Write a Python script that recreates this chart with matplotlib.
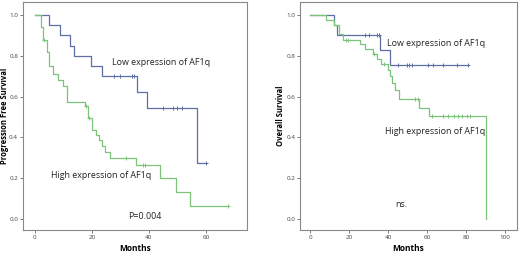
import matplotlib
matplotlib.use('Agg')
import matplotlib.pyplot as plt

plt.rcParams['font.family'] = ['Open Sans', 'DejaVu Sans']

# Progression free survival (left)
pfs_low_t = [0, 5.0, 8.8, 12.3, 13.7, 19.6, 23.7, 35.7, 39.5, 56.7, 59.9]
pfs_low_s = [1.0, 0.95, 0.90, 0.85, 0.80, 0.75, 0.70, 0.625, 0.545, 0.273, 0.273]
pfs_low_cens_t = [27.8, 29.8, 33.9, 34.7, 44.8, 48.5, 49.7, 51.7, 59.9]
pfs_low_cens_s = [0.70, 0.70, 0.70, 0.70, 0.545, 0.545, 0.545, 0.545, 0.273]

pfs_high_t = [0, 2.0, 2.7, 4.1, 5.0, 6.4, 8.2, 9.9, 11.1, 17.5, 18.7, 19.9, 21.6,
              22.6, 23.4, 24.6, 26.3, 35.4, 43.9, 49.5, 54.4, 67.8]
pfs_high_s = [1.0, 0.94, 0.88, 0.82, 0.75, 0.71, 0.68, 0.65, 0.575, 0.555, 0.495,
              0.435, 0.41, 0.385, 0.36, 0.33, 0.30, 0.265, 0.20, 0.13, 0.065, 0.065]
pfs_high_cens_t = [3.3, 18.1, 19.1, 31.9, 37.8, 38.7, 67.8]
pfs_high_cens_s = [0.88, 0.555, 0.495, 0.30, 0.265, 0.265, 0.065]

# Overall survival (right)
os_low_t = [0, 12.2, 13.9, 36.1, 41.2, 81.0]
os_low_s = [1.0, 0.95, 0.90, 0.83, 0.755, 0.755]
os_low_cens_t = [28.0, 30.3, 34.4, 35.4, 45.1, 49.6, 50.9, 52.1, 60.7, 63.2, 68.4, 75.2, 81.0]
os_low_cens_s = [0.90, 0.90, 0.90, 0.90, 0.755, 0.755, 0.755, 0.755, 0.755, 0.755,
                 0.755, 0.755, 0.755]

os_high_t = [0, 8.0, 12.2, 14.8, 17.0, 25.5, 28.0, 32.3, 34.5, 36.5, 40.0, 41.2,
             42.2, 43.5, 45.6, 56.1, 61.2, 90.1]
os_high_s = [1.0, 0.976, 0.952, 0.905, 0.88, 0.857, 0.833, 0.81, 0.786, 0.762, 0.73,
             0.70, 0.665, 0.63, 0.59, 0.545, 0.505, 0.0]
os_high_cens_t = [18.4, 19.6, 33.0, 38.0, 53.6, 55.3, 62.4, 68.0, 70.9, 73.8, 76.0,
                  77.8, 80.3, 82.0]
os_high_cens_s = [0.88, 0.88, 0.81, 0.762, 0.59, 0.59, 0.505, 0.505, 0.505, 0.505,
                  0.505, 0.505, 0.505, 0.505]

blue = '#5f6fa6'
green = '#7cc47a'

fig = plt.figure(figsize=(5.2, 2.56), dpi=100)
ax1 = fig.add_axes([0.044, 0.102, 0.431, 0.89])
ax2 = fig.add_axes([0.577, 0.102, 0.417, 0.89])

def km(ax, t, s, ct, cs, col):
    ax.step(t, s, where='post', color=col, lw=0.9)
    ax.plot(ct, cs, '+', color=col, ms=3, mew=0.7)

km(ax1, pfs_low_t, pfs_low_s, pfs_low_cens_t, pfs_low_cens_s, blue)
km(ax1, pfs_high_t, pfs_high_s, pfs_high_cens_t, pfs_high_cens_s, green)
km(ax2, os_low_t, os_low_s, os_low_cens_t, os_low_cens_s, blue)
km(ax2, os_high_t, os_high_s, os_high_cens_t, os_high_cens_s, green)

ax1.set_xlim(-4.2, 74.4)
ax1.set_xticks([0, 20, 40, 60])
ax2.set_xlim(-5.1, 106)
ax2.set_xticks([0, 20, 40, 60, 80, 100])

for ax in (ax1, ax2):
    ax.set_ylim(-0.054, 1.064)
    ax.set_yticks([0.0, 0.2, 0.4, 0.6, 0.8, 1.0])
    ax.set_yticklabels(['0.0', '0.2', '0.4', '0.6', '0.8', '1.0'])
    ax.tick_params(labelsize=4.5, length=2, width=0.5, colors='#444444', pad=1.5)
    for sp in ax.spines.values():
        sp.set_color('#888888')
        sp.set_linewidth(0.8)
    ax.set_xlabel('Months', fontsize=6, fontweight='bold', labelpad=3)

ax1.text(-0.082, 0.5, 'Progression Free Survival', transform=ax1.transAxes,
         rotation=90, ha='center', va='center', fontsize=5.5, fontweight='bold')
ax2.text(-0.092, 0.5, 'Overall Survival', transform=ax2.transAxes,
         rotation=90, ha='center', va='center', fontsize=5.5, fontweight='bold')

fs = 6.4
ax1.text(27, 0.765, 'Low expression of AF1q', fontsize=fs, va='center', color='#222222')
ax1.text(5.6, 0.212, 'High expression of AF1q', fontsize=fs, va='center', color='#222222')
ax1.text(32.8, 0.012, 'P=0.004', fontsize=fs, va='center', color='#222222')

ax2.text(39.3, 0.863, 'Low expression of AF1q', fontsize=fs, va='center', color='#222222')
ax2.text(38.6, 0.43, 'High expression of AF1q', fontsize=fs, va='center', color='#222222')
ax2.text(43.6, 0.073, 'ns.', fontsize=fs, va='center', color='#222222')

fig.savefig('out.png', dpi=100)
